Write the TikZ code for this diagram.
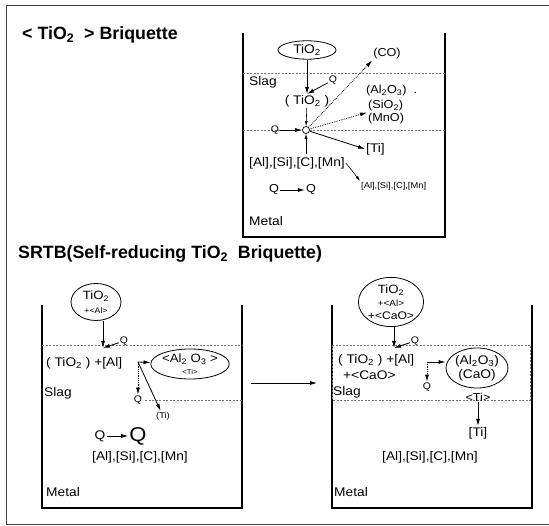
\documentclass[tikz,border=0pt]{standalone}
\usepackage{fontspec}
\setmainfont{Liberation Sans}
\newfontfamily\labfont{Liberation Sans}[FakeStretch=1.1]
\usetikzlibrary{arrows.meta,shapes.geometric}
\newcommand\mysub[1]{\textsubscript{#1}}
\newcommand\fs[1]{\fontsize{#1}{#1}\selectfont}
\begin{document}
\begin{tikzpicture}[x=1pt,y=-1pt,
 txt/.style={font=\labfont\fs{12.5}, inner sep=1pt},
 txtm/.style={font=\labfont\fs{11.5}, inner sep=1pt},
 sm/.style={font=\labfont\fs{9.5}, inner sep=1pt},
 tiny/.style={font=\labfont\fs{8.5}, inner sep=1pt},
 big/.style={font=\labfont\fs{20}, inner sep=1pt},
 ttl/.style={font=\bfseries\fs{17.8}, anchor=west, inner sep=0pt},
 wall/.style={line width=1.6pt},
 slagline/.style={black!55, line width=0.6pt, dash pattern=on 2pt off 1.5pt},
 arr/.style={line width=0.8pt, -{Latex[length=7pt,width=4pt]}},
 sarr/.style={line width=0.6pt, -{Latex[length=5pt,width=3pt]}},
 darr/.style={arr, densely dotted},
 bub/.style={ellipse, draw, line width=0.8pt, inner sep=0pt, align=center},
]
\useasboundingbox (0,0) rectangle (549,526);
% outer frame
\draw[line width=1pt, black!75] (549,6) -- (6,6) -- (6,524) -- (549,524);

% ---------- top: <TiO2> briquette ----------
\node[ttl] (t1) at (22,35) {< TiO\mysub{2}\ \ > Briquette};
\draw[wall] (243,33) -- (243,237) -- (445,237) -- (445,33);
\draw[slagline] (243,73) -- (445,73);
\draw[slagline] (243,130) -- (445,130);

\node[bub, txt, minimum width=58pt, minimum height=17pt] (e1) at (307,50) {TiO\mysub{2}};
\node[txtm] (co) at (387,54) {(CO)};
\node[txt, anchor=west] (slag1) at (248,82) {Slag};
\node[sm] (q1) at (333,80) {Q};
\node[txt] (tb) at (307,101) {( TiO\mysub{2} )};
\node[txtm, anchor=west] (al) at (365,91) {(Al\mysub{2}O\mysub{3})\ \ .};
\node[txtm, anchor=west] (si) at (367,106) {(SiO\mysub{2})};
\node[txtm, anchor=west] (mn) at (367,119) {(MnO)};
\node[sm] (q2) at (275,130) {Q};
\node[circle, draw, fill=white, minimum size=7pt, inner sep=0pt, line width=0.7pt] (c) at (306,130) {};
\node[txt, anchor=west] (ti1) at (365,149) {[Ti]};
\node[txt, anchor=west] (as1) at (248,163) {[Al],[Si],[C],[Mn]};
\node[tiny, anchor=west] (as1s) at (360,186) {[Al],[Si],[C],[Mn]};
\node[txtm] (qa) at (274,190) {Q};
\node[txtm] (qb) at (311,190) {Q};
\node[txt, anchor=west] (m1) at (248,221) {Metal};
\coordinate (b1) at (306,154);

\draw[arr] (e1) -- (tb);
\draw[arr] (q1) -- (tb.north);
\draw[sarr] (tb) -- (c);
\draw[arr] (q2) -- (c);
\draw[sarr] (b1) -- (c);
\draw[darr] (c) -- (co.south west);
\draw[darr] (c) -- (si.south west);
\draw[arr] (c) -- (ti1.west);
\draw[sarr] (as1.east) -- (as1s.north west);
\draw[arr] (qa) -- (qb);

% ---------- SRTB ----------
\node[ttl] (t2) at (18,254) {SRTB(Self-reducing TiO\mysub{2}\ \ Briquette)};

% left container
\draw[wall] (42,305) -- (42,508) -- (242,508) -- (242,305);
\draw[slagline] (42,345) -- (242,345);
\draw[slagline] (145,400) -- (242,400);
\node[bub, font=\labfont\fs{12}, minimum width=50pt, minimum height=37pt] (e2) at (96,302)
  {TiO\mysub{2}\\[2pt]{\fs{8}+<Al>}};
\coordinate (t2a) at (103,348);
\draw[arr] (e2.south -| t2a) -- (t2a);
\node[sm] (q3) at (124,341) {Q};
\draw[arr] (q3) -- (t2a);
\node[txt, anchor=west] (ta) at (45,363) {( TiO\mysub{2} ) +[Al]};
\coordinate (j1) at (138,362);
\node[bub, font=\labfont\fs{12}, minimum width=62pt, minimum height=30pt] (e3) at (190,364)
  {<Al\mysub{2} O\mysub{3} >\\[0pt]{\fs{7}<Ti>}};
\draw[arr] (j1) -- (e3);
\node[sm] (q4) at (138,400) {Q};
\draw[darr] (j1) -- (q4);
\node[tiny] (ti2) at (163,416) {(Ti)};
\draw[arr] (j1) -- (ti2);
\node[txt, anchor=west] (s2) at (43,393) {Slag};
\node[txt] (qc) at (100,436) {Q};
\node[big] (qd) at (138,436) {Q};
\draw[arr] (qc) -- (qd);
\node[txt, anchor=west] (as2) at (91,457) {[Al],[Si],[C],[Mn]};
\node[txt, anchor=west] (m2) at (45,492) {Metal};

% transition arrow
\coordinate (ma) at (251,383);
\coordinate (mb) at (317,383);
\draw[arr] (ma) -- (mb);

% right container
\draw[wall] (332,305) -- (332,508) -- (532,508) -- (532,305);
\draw[slagline] (332,345) rectangle (530,400);
\node[bub, font=\labfont\fs{12}, minimum width=62pt, minimum height=45pt] (e4) at (391,302)
  {TiO\mysub{2}\\[1pt]{\fs{9}+<Al>}\\[1pt]{\fs{11}+<CaO>}};
\coordinate (t4) at (394,348);
\draw[arr] (e4.south -| t4) -- (t4);
\node[sm] (q5) at (415,341) {Q};
\draw[arr] (q5) -- (t4);
\node[txt, anchor=west] (tb2) at (337,360) {( TiO\mysub{2} ) +[Al]};
\node[txt, anchor=west] (cao) at (342,375) {+<CaO>};
\coordinate (j2) at (427,362);
\node[bub, font=\labfont\fs{12.5}, minimum width=62pt, minimum height=40pt] (e5) at (477,368)
  {(Al\mysub{2}O\mysub{3})\\[1.5pt](CaO)};
\draw[arr] (j2) -- (j2 -| e5.west);
\node[sm] (q6) at (427,387) {Q};
\draw[darr] (j2) -- (q6);
\node[txtm] (ti3) at (478,397) {<Ti>};
\node[txt] (ti4) at (478,433) {[Ti]};
\draw[arr] (ti3) -- (ti4);
\node[txt, anchor=west] (s3) at (332,392) {Slag};
\node[txt, anchor=west] (as3) at (381,457) {[Al],[Si],[C],[Mn]};
\node[txt, anchor=west] (m3) at (333,492) {Metal};
\end{tikzpicture}
\end{document}
